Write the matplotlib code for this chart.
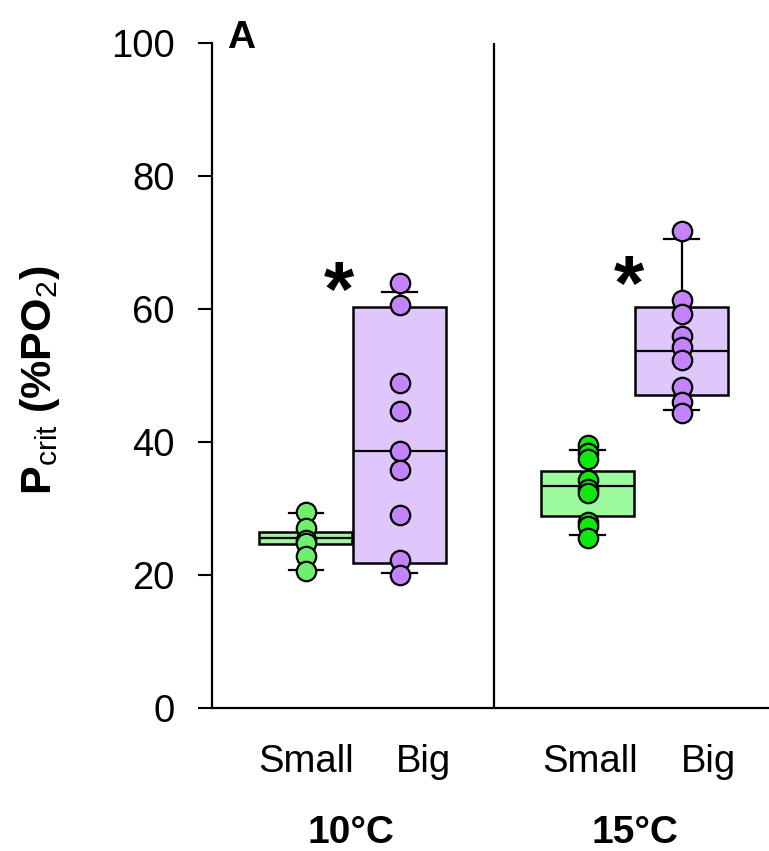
import matplotlib
matplotlib.use("Agg")
import matplotlib.pyplot as plt
from matplotlib.transforms import blended_transform_factory

plt.rcParams["font.family"] = ["Liberation Sans", "DejaVu Sans"]
plt.rcParams["mathtext.fontset"] = "custom"
plt.rcParams["mathtext.rm"] = "Liberation Sans"
plt.rcParams["mathtext.bf"] = "Liberation Sans:bold"

# Pcrit values (%PO2) per group
small_10 = [29.5, 27.0, 25.3, 24.8, 22.8, 20.6]
big_10 = [63.9, 60.6, 48.8, 44.6, 38.6, 35.8, 29.0, 22.3, 20.0]
small_15 = [39.5, 38.3, 37.4, 34.3, 33.0, 32.3, 28.0, 27.3, 25.6]
big_15 = [71.8, 61.3, 59.3, 56.0, 54.3, 52.3, 48.3, 46.0, 44.3]

# Box summaries: whisker low, Q1, median, Q3, whisker high
box_small_10 = [20.8, 24.6, 25.5, 26.4, 29.3]
box_big_10 = [20.3, 21.8, 38.6, 60.3, 62.6]
box_small_15 = [26.0, 28.8, 33.4, 35.6, 38.8]
box_big_15 = [44.8, 47.1, 53.7, 60.3, 70.6]

size_labels = ["Small", "Big", "Small", "Big"]
temp_labels = ["10°C", "15°C"]
sig_marks = ["*", "*"]

positions = [1, 2, 4, 5]
groups = [small_10, big_10, small_15, big_15]
boxes = [box_small_10, box_big_10, box_small_15, box_big_15]
box_fills = ["#a2f2a2", "#dfc6fb", "#9cfc9c", "#dfc6fb"]
point_cols = ["#6ef06e", "#c283fb", "#10e810", "#c283fb"]

fig = plt.figure(figsize=(7.69, 8.51), dpi=100)
ax = fig.add_axes([212 / 769, (851 - 708) / 851, 1 - 212 / 769, 665 / 851])

stats = []
for b in boxes:
    stats.append(dict(whislo=b[0], q1=b[1], med=b[2], q3=b[3], whishi=b[4], fliers=[]))

bp = ax.bxp(stats, positions=positions, widths=0.99, patch_artist=True,
            showfliers=False, capwidths=0.37,
            boxprops=dict(linewidth=1.8, edgecolor="black"),
            medianprops=dict(color="black", linewidth=1.6),
            whiskerprops=dict(color="black", linewidth=1.6),
            capprops=dict(color="black", linewidth=1.6))
for patch, fc in zip(bp["boxes"], box_fills):
    patch.set_facecolor(fc)

for pos, vals, col in zip(positions, groups, point_cols):
    ax.plot([pos] * len(vals), vals, "o", ms=14, mfc=col, mec="black",
            mew=1.6, zorder=5, clip_on=False)

ax.axvline(3, color="black", linewidth=1.6)

ax.set_xlim(0, 5.93)
ax.set_ylim(0, 100)
ax.set_yticks([0, 20, 40, 60, 80, 100])
ax.set_xticks([])
ax.tick_params(axis="y", direction="out", length=10, width=1.5, labelsize=27.5,
               pad=17, colors="black")
for side in ["top", "right"]:
    ax.spines[side].set_visible(False)
for side in ["left", "bottom"]:
    ax.spines[side].set_linewidth(1.6)

fig.text(40 / 769, (851 - 380) / 851, r"P$_{\mathrm{crit}}$ (%PO$_{\mathrm{2}}$)",
         fontsize=31, fontweight="bold", rotation=90, ha="center", va="center")

trans = blended_transform_factory(ax.transData, ax.transAxes)
label_x = [1.0, 2.25, 4.02, 5.29]
for x, lab in zip(label_x, size_labels):
    ax.text(x, -0.0962, lab, transform=trans, ha="center", va="baseline",
            fontsize=27.5)
for x, lab in zip([1.48, 4.50], temp_labels):
    ax.text(x, -0.2035, lab, transform=trans, ha="center", va="baseline",
            fontsize=28, fontweight="bold")

for x, y, s in zip([1.35, 4.44], [62.1, 62.9], sig_marks):
    ax.text(x, y, s, ha="center", va="center", fontsize=56, fontweight="bold")

ax.text(227 / 769, (851 - 48) / 851, "A", transform=fig.transFigure,
        ha="left", va="baseline", fontsize=28, fontweight="bold")

fig.savefig("out.png", dpi=100)
